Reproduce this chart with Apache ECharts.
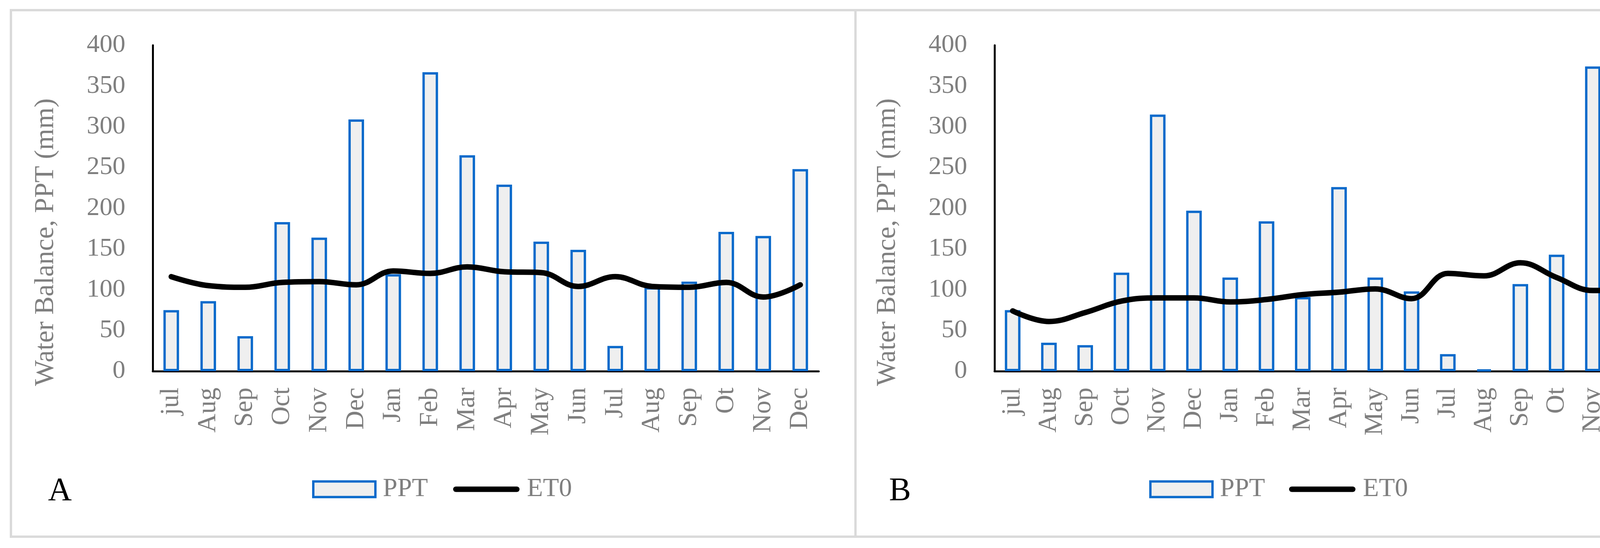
<!DOCTYPE html>
<html>
<head>
<meta charset="utf-8">
<script src="https://cdn.jsdelivr.net/npm/echarts@6/dist/echarts.min.js"></script>
<style>html,body{margin:0;padding:0;background:#fff}#c{width:4338px;height:1404px}</style>
</head>
<body>
<div id="c"></div>
<script>
// ---- data ----
const monthsA = ['jul','Aug','Sep','Oct','Nov','Dec','Jan','Feb','Mar','Apr','May','Jun','Jul','Aug','Sep','Ot','Nov','Dec'];
const monthsB = ['jul','Aug','Sep','Oct','Nov','Dec','Jan','Feb','Mar','Apr','May','Jun','Jul','Aug','Sep','Ot','Nov','Dec'];
const pptA = [75,86,43,183,164,309,119,367,265,229,159,149,31,103,110,171,166,248];
const et0A = [116,105,103,109,110,106,123,120,128,122,121,104,116,104,103,109,91,106];
const pptB = [75,35,32,121,315,197,115,184,91,226,115,98,21,2,107,143,374,364];
const et0B = [74,61,72,86,90,90,85,88,94,97,101,89,120,117,133,115,99,100];
const yMin = 0, yMax = 400, yStep = 50;
const yTitle = 'Water Balance, PPT (mm)';
const panelLabels = ['A', 'B'];

const FONT = 'Liberation Serif';
const GRAY = '#7f7f7f';
const BLUE = '#0a6acb';
const FILL = '#efefef';

function xAxisCfg(idx, data) {
  return {
    type: 'category', gridIndex: idx, data: data,
    axisLine: {show: true, lineStyle: {color: '#000', width: 5}},
    axisTick: {show: false},
    axisLabel: {rotate: 90, margin: 42, color: GRAY, fontFamily: FONT, fontSize: 67, interval: 0}
  };
}
function yAxisCfg(idx) {
  return {
    type: 'value', gridIndex: idx, min: yMin, max: yMax, interval: yStep,
    name: yTitle, nameLocation: 'middle', nameRotate: 90, nameGap: 238,
    nameTextStyle: {color: GRAY, fontFamily: FONT, fontSize: 70, padding: [0, 174, 0, 0]},
    axisLine: {show: true, lineStyle: {color: '#000', width: 5}},
    axisTick: {show: false},
    splitLine: {show: false},
    axisLabel: {margin: 70, color: GRAY, fontFamily: FONT, fontSize: 66}
  };
}
function barSeries(idx, data) {
  return {
    name: 'PPT', type: 'bar', xAxisIndex: idx, yAxisIndex: idx, data: data,
    barWidth: 40,
    itemStyle: {color: FILL, borderColor: BLUE, borderWidth: 6},
    z: 2
  };
}
function lineSeries(idx, data) {
  return {
    name: 'ET0', type: 'line', xAxisIndex: idx, yAxisIndex: idx, data: data,
    smooth: 0.4, symbol: 'none',
    lineStyle: {color: '#000', width: 14, cap: 'round', join: 'round'},
    itemStyle: {color: '#000'},
    z: 3
  };
}
const textStyle = {color: GRAY, fontFamily: FONT, fontSize: 67, padding: [0, 0, 0, 14]};
function legendPPT(left) {
  return {
    left: left, top: 1215, itemWidth: 159, itemHeight: 40,
    textStyle: textStyle, selectedMode: false,
    data: [{name: 'PPT', icon: 'rect', itemStyle: {color: FILL, borderColor: BLUE, borderWidth: 6}}]
  };
}
function legendET0(left) {
  return {
    left: left, top: 1215, itemWidth: 170, itemHeight: 14,
    textStyle: textStyle, selectedMode: false,
    data: [{name: 'ET0', icon: 'path://M7,0 L163,0 A7,7 0 0 1 163,14 L7,14 A7,7 0 0 1 7,0 Z', itemStyle: {color: '#000', borderWidth: 0}}]
  };
}

const chart = echarts.init(document.getElementById('c'), null, {renderer: 'canvas'});
chart.setOption({
  backgroundColor: '#fff',
  animation: false,
  grid: [
    {left: 391, top: 116, width: 1705, height: 835, containLabel: false},
    {left: 2546, top: 116, width: 1671, height: 835, containLabel: false}
  ],
  xAxis: [xAxisCfg(0, monthsA), xAxisCfg(1, monthsB)],
  yAxis: [yAxisCfg(0), yAxisCfg(1)],
  legend: [legendPPT(794), legendET0(1155), legendPPT(2937), legendET0(3295)],
  series: [barSeries(0, pptA), lineSeries(0, et0A), barSeries(1, pptB), lineSeries(1, et0B)],
  graphic: [
    {type: 'rect', shape: {x: 28, y: 26, width: 2162, height: 1349}, style: {fill: 'none', stroke: '#dadada', lineWidth: 6}, silent: true, z: -1},
    {type: 'rect', shape: {x: 2190, y: 26, width: 2121, height: 1349}, style: {fill: 'none', stroke: '#dadada', lineWidth: 6}, silent: true, z: -1},
    {type: 'text', left: 123, top: 1218, style: {text: panelLabels[0], font: '84px "Liberation Serif"', fill: '#000'}},
    {type: 'text', left: 2276, top: 1218, style: {text: panelLabels[1], font: '84px "Liberation Serif"', fill: '#000'}}
  ]
});
</script>
</body>
</html>
